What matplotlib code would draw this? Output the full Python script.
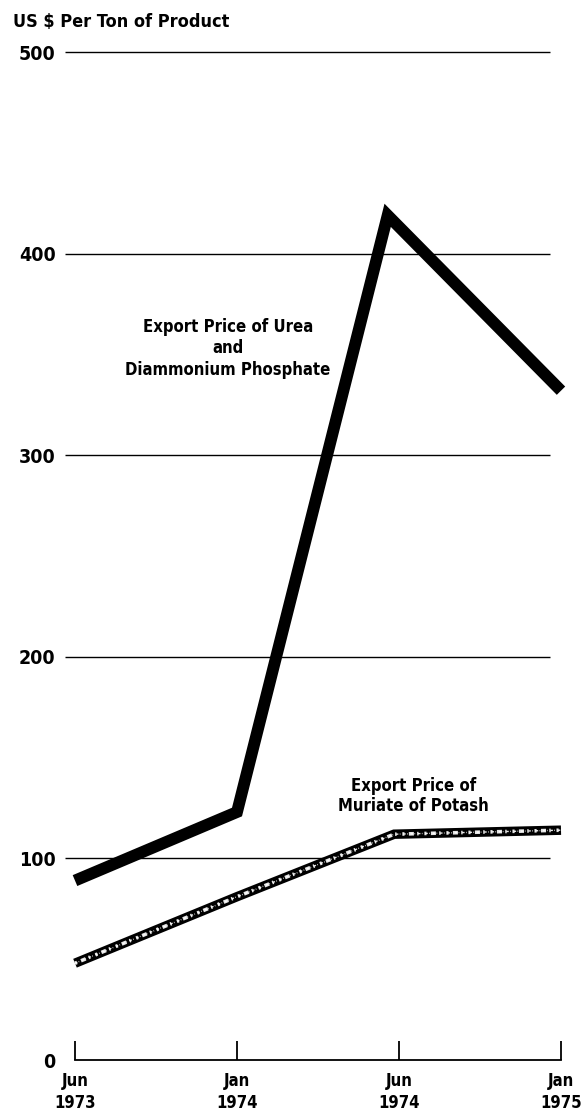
import numpy as np
import matplotlib
matplotlib.use("Agg")
import matplotlib.pyplot as plt

plt.rcParams['font.family'] = ['DejaVu Sans']
plt.rcParams['font.stretch'] = 'condensed'
plt.rcParams['font.weight'] = 'bold'

# data (x = tick position, 0..3)
months = ["Jun", "Jan", "Jun", "Jan"]
years = ["1973", "1974", "1974", "1975"]
urea_x = [0, 1, 1.93, 3]
urea_price = [89, 123, 419, 332]
potash_x = [0, 1, 1.97, 3]
potash_price = [48, 81, 112, 114]
grid_vals = [100, 200, 300, 400, 500]

fig = plt.figure(figsize=(5.87, 11.10), dpi=100)
ax = fig.add_axes([75 / 587, 50 / 1110, 486 / 587, 1008 / 1110])
ax.set_xlim(0, 3)
ax.set_ylim(0, 500)

# thin horizontal rules
ax.hlines(grid_vals, -0.06, 2.93, color='black', lw=1.0, clip_on=False, zorder=1)

# urea / DAP: heavy black line
ax.plot(urea_x, urea_price, color='black', lw=8.5, solid_joinstyle='miter',
        solid_capstyle='butt', clip_on=False, zorder=3)

# potash: speckled band
ax.plot(potash_x, potash_price, color='black', lw=6.8, solid_joinstyle='miter',
        solid_capstyle='butt', clip_on=False, zorder=2)
ax.plot(potash_x, potash_price, color='white', lw=2.6, alpha=0.9,
        dashes=(0.6, 1.2, 1.4, 0.9, 0.4, 1.6), clip_on=False, zorder=2)
ax.plot(potash_x, potash_price, color='white', lw=1.0, alpha=0.9,
        dashes=(1.8, 1.0, 0.5, 2.0), clip_on=False, zorder=2)

# axes styling
for side in ['left', 'right', 'top']:
    ax.spines[side].set_visible(False)
ax.spines['bottom'].set_linewidth(1.3)
ax.set_xticks(range(4))
ax.set_xticklabels([m + "\n" + y for m, y in zip(months, years)],
                   fontsize=12, linespacing=1.25)
ax.tick_params(axis='x', direction='in', length=14, width=1.3, pad=9)
ax.set_yticks([0] + grid_vals)
ax.set_yticklabels(["0"] + [str(v) for v in grid_vals], fontsize=14)
ax.tick_params(axis='y', length=0, pad=14)

fig.text(13 / 587, 1 - 22 / 1110, "US $ Per Ton of Product", fontsize=13,
         fontweight='bold', va='center', ha='left')

ax.text(0.944, 353, "Export Price of Urea\nand\nDiammonium Phosphate",
        fontsize=12, ha='center', va='center', linespacing=1.25)
ax.text(2.09, 131, "Export Price of\nMuriate of Potash",
        fontsize=12, ha='center', va='center', linespacing=1.15)

fig.savefig("out.png", dpi=100)
